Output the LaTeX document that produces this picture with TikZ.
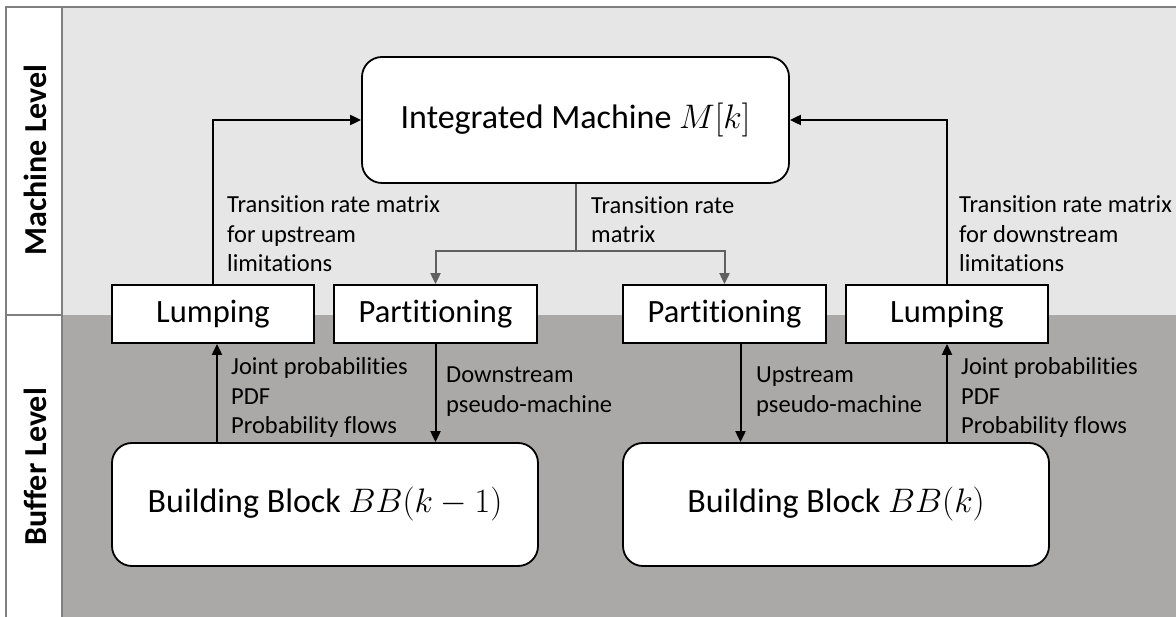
\documentclass[tikz,border=0pt]{standalone}
\usepackage{fix-cm}
\usepackage{fontspec}
\setmainfont{Carlito}[Ligatures=NoCommon]
\usetikzlibrary{arrows.meta}
\definecolor{lightbg}{RGB}{230,230,230}
\definecolor{darkbg}{RGB}{171,168,168}
\definecolor{framegray}{RGB}{128,128,128}
\definecolor{splitgray}{RGB}{96,96,96}
\begin{document}
\begin{tikzpicture}[x=1pt,y=-1pt,
  bigbox/.style={draw=black, line width=1.8pt, fill=white, rounded corners=20pt,
    inner sep=0pt, font=\fontsize{34}{41}\selectfont},
  smallbox/.style={draw=black, line width=1.8pt, fill=white, inner sep=0pt,
    minimum width=202pt, minimum height=58pt, font=\fontsize{32.5}{39}\selectfont},
  lbl/.style={anchor=base west, align=left, inner sep=0pt, font=\fontsize{24.5}{29.5}\selectfont},
  levellbl/.style={rotate=90, inner sep=0pt, font=\bfseries\fontsize{32}{38}\selectfont},
  conn/.style={draw=black, line width=2pt, -{Triangle[length=11pt,width=10pt]}},
  gconn/.style={draw=splitgray, line width=2pt, -{Triangle[length=11pt,width=10pt]}},
  frameline/.style={draw=framegray, line width=1.5pt}]
\useasboundingbox (0,0) rectangle (1176,617);
% background bands
\fill[lightbg] (62,7) rectangle (1176,315);
\fill[darkbg] (62,315) rectangle (1176,617);
\fill[white] (6,7) rectangle (62,617);
\draw[frameline] (1177,7) -- (6,7) -- (6,618);
\draw[frameline] (62,7) -- (62,618);
\draw[frameline] (6,315) -- (62,315);
\node[levellbl] (ml) at (35,160) {Machine Level};
\node[levellbl] (bl) at (35,467) {Buffer Level};
% boxes
\node[bigbox, minimum width=427pt, minimum height=126pt] (IM) at (575.5,120) {Integrated Machine $M[k]$};
\node[smallbox] (LumpL) at (213,314) {Lumping};
\node[smallbox, minimum width=203pt] (PartL) at (435.5,314) {Partitioning};
\node[smallbox, minimum width=203pt] (PartR) at (724.5,314) {Partitioning};
\node[smallbox] (LumpR) at (947,314) {Lumping};
\node[bigbox, minimum width=426pt, minimum height=123pt] (BBL) at (325,504.5) {Building Block $BB(k-1)$};
\node[bigbox, minimum width=426pt, minimum height=123pt] (BBR) at (836,504.5) {Building Block $BB(k)$};
% connectors
\draw[conn] (LumpL.north) |- (IM.west);
\draw[conn] (LumpR.north) |- (IM.east);
\coordinate (split) at (575.5,251);
\draw[splitgray, line width=2pt] (IM.south) -- (split);
\draw[gconn] (split) -| (PartL.north);
\draw[gconn] (split) -| (PartR.north);
\draw[conn] (PartL.south) -- (PartL.south |- BBL.north);
\coordinate (prs) at ([xshift=16pt]PartR.south);
\draw[conn] (prs) -- (prs |- BBR.north);
\coordinate (lls) at ([xshift=4pt]LumpL.south);
\draw[conn] (lls |- BBL.north) -- (lls);
\draw[conn] (LumpR.south |- BBR.north) -- (LumpR.south);
% labels (anchor = baseline of last line)
\node[lbl] (tl) at (227,272) {Transition rate matrix\\for upstream\\limitations};
\node[lbl] (tm) at (591,243) {Transition rate\\matrix};
\node[lbl] (tr) at (959,272) {Transition rate matrix\\for downstream\\limitations};
\node[lbl] (jl) at (231,434) {Joint probabilities\\PDF\\Probability flows};
\node[lbl] (dl) at (446,412.5) {Downstream\\pseudo-machine};
\node[lbl] (ul) at (756,412.5) {Upstream\\pseudo-machine};
\node[lbl] (jr) at (961,434) {Joint probabilities\\PDF\\Probability flows};
\end{tikzpicture}
\end{document}
